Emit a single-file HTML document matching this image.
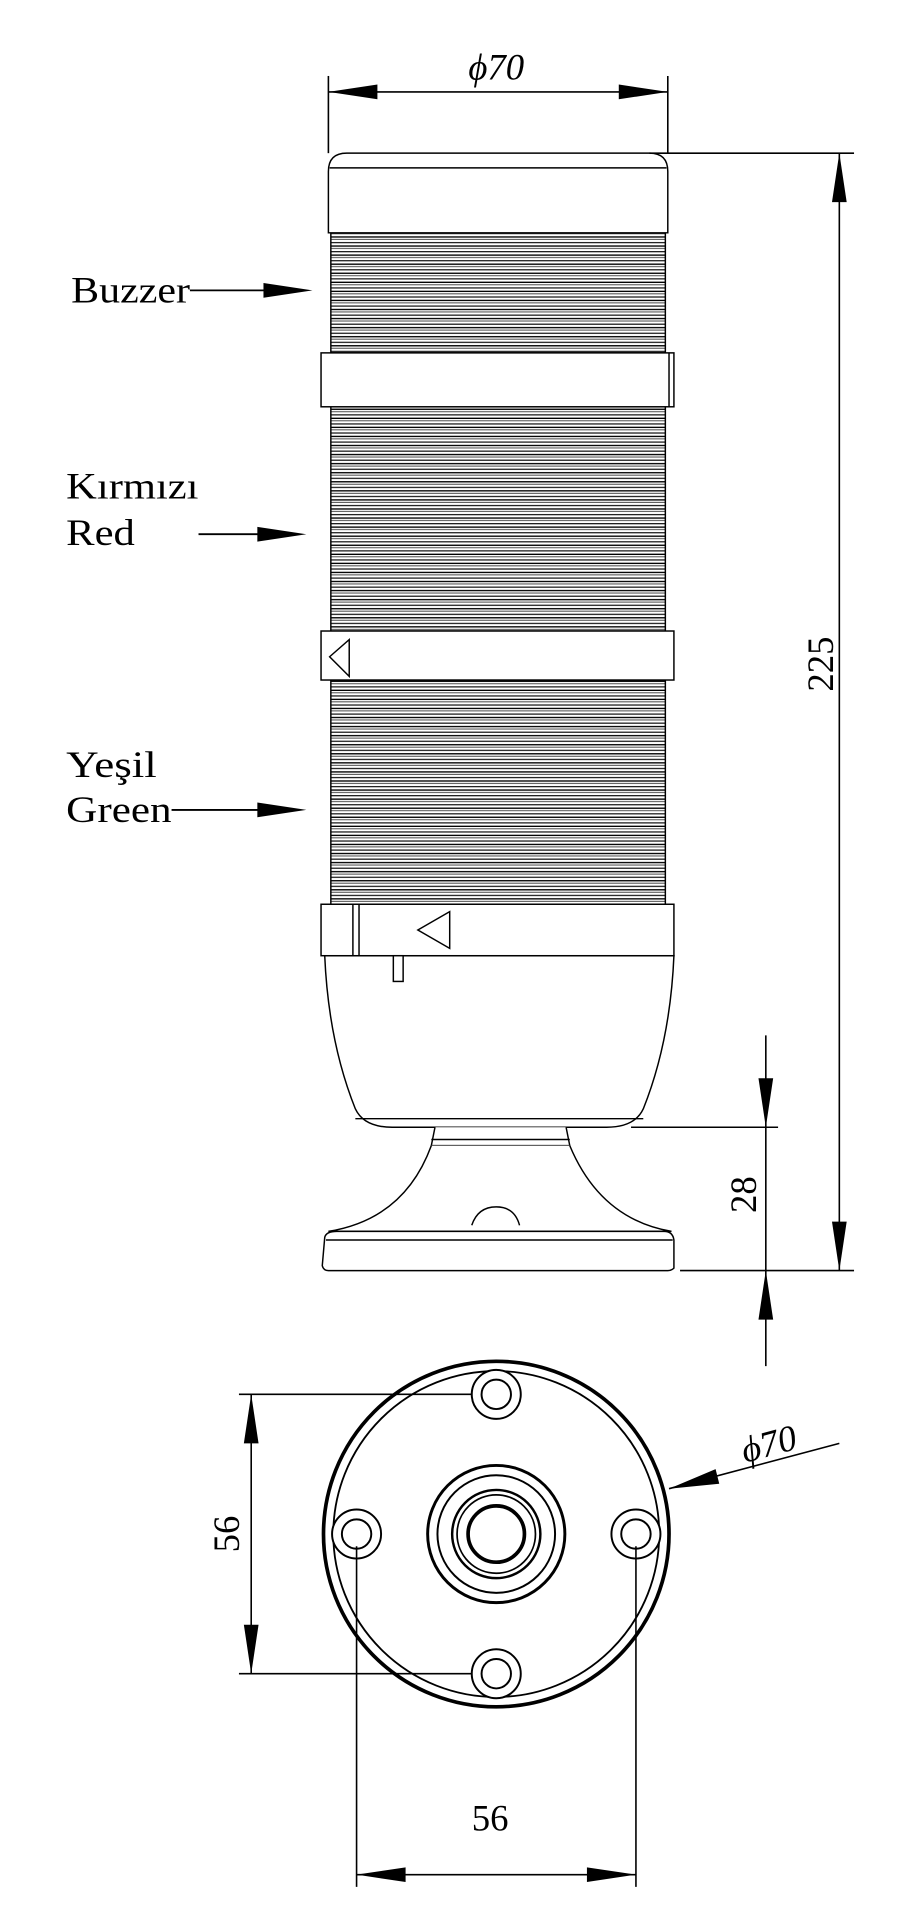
<!DOCTYPE html>
<html><head><meta charset="utf-8"><style>html,body{margin:0;padding:0;background:#fff}svg{display:block}</style></head>
<body>
<svg width="919" height="1920" viewBox="0 0 750 1567" xmlns="http://www.w3.org/2000/svg" font-family="Liberation Serif, serif">
<defs>
<pattern id="rib" x="0" y="0" width="10" height="7.4" patternUnits="userSpaceOnUse">
<rect width="10" height="7.4" fill="#fff"/>
<line x1="0" y1="1" x2="10" y2="1" stroke="#000" stroke-width="1.1"/>
<line x1="0" y1="3" x2="10" y2="3" stroke="#444" stroke-width="0.8"/>
<line x1="0" y1="5.6" x2="10" y2="5.6" stroke="#111" stroke-width="1"/>
</pattern>
</defs>
<g fill="none" stroke="#000" stroke-width="1.3">
<line x1="268" y1="62" x2="268" y2="125"/><line x1="545" y1="62" x2="545" y2="125"/>
<line x1="268" y1="75" x2="545" y2="75"/>
</g>
<polygon points="268,75 308,69 308,81" fill="#000"/><polygon points="545,75 505,69 505,81" fill="#000"/>
<text x="405" y="65" font-size="30" text-anchor="middle" font-style="italic">ϕ70</text>

<g stroke="#000" stroke-width="1.2">
<rect x="270" y="190" width="273" height="98" fill="url(#rib)"/>
<rect x="270" y="332" width="273" height="183" fill="url(#rib)"/>
<rect x="270" y="555" width="273" height="183" fill="url(#rib)"/>
<path d="M268,190 V140 Q268,125 283,125 H530 Q545,125 545,140 V190 Z" fill="#fff"/>
<line x1="269" y1="137" x2="544" y2="137"/>
<rect x="262" y="288" width="288" height="44" fill="#fff"/>
<line x1="546" y1="288" x2="546" y2="332"/>
<rect x="262" y="515" width="288" height="40" fill="#fff"/>
<polygon points="269,536 285,522 285,552" fill="none"/>
<rect x="262" y="738" width="288" height="42" fill="#fff"/>
<line x1="288" y1="738" x2="288" y2="780"/><line x1="293" y1="738" x2="293" y2="780"/>
<polygon points="341,759 367,744 367,774" fill="none"/>
<path d="M265,780 Q268,850 290,905 Q297,920 320,920 H495 Q518,920 525,905 Q547,850 550,780 Z" fill="#fff"/>
<line x1="290" y1="913" x2="525" y2="913"/>
<rect x="321" y="780" width="8" height="21" fill="#fff"/>
<path d="M355,920 L352,935 H465 L462,920" fill="#fff"/>
<line x1="352" y1="930" x2="465" y2="930"/>
<path d="M352,935 Q330,995 268,1005 H548 Q490,995 465,935" fill="#fff"/>
<path d="M385,1000 Q390,985 405,985 Q420,985 424,1000" fill="#fff"/>
<path d="M265,1010 Q266,1005 275,1005 H542 Q549,1005 550,1012 L550,1035 Q548,1037 545,1037 H268 Q264,1037 263,1033 Z" fill="#fff"/>
<line x1="266" y1="1012" x2="549" y2="1012"/>
</g>

<g stroke="#000" stroke-width="1.3">
<line x1="530" y1="125" x2="697" y2="125"/>
<line x1="555" y1="1037" x2="697" y2="1037"/>
<line x1="685" y1="125" x2="685" y2="1037"/>
<line x1="515" y1="920" x2="635" y2="920"/>
<line x1="625" y1="845" x2="625" y2="1115"/>
</g>
<polygon points="685,125 679,165 691,165" fill="#000"/><polygon points="685,1037 679,997 691,997" fill="#000"/>
<polygon points="625,920 619,880 631,880" fill="#000"/><polygon points="625,1037 619,1077 631,1077" fill="#000"/>
<text transform="translate(680,542) rotate(-90)" font-size="30" text-anchor="middle">225</text>
<text transform="translate(617,975) rotate(-90)" font-size="30" text-anchor="middle">28</text>

<g font-size="30">
<text x="58" y="247" textLength="97" lengthAdjust="spacingAndGlyphs">Buzzer</text>
<text x="54" y="407" textLength="108" lengthAdjust="spacingAndGlyphs">Kırmızı</text>
<text x="54" y="445" textLength="56" lengthAdjust="spacingAndGlyphs">Red</text>
<text x="54" y="634" textLength="74" lengthAdjust="spacingAndGlyphs">Yeşil</text>
<text x="54" y="671" textLength="86" lengthAdjust="spacingAndGlyphs">Green</text>
</g>
<g stroke="#000" stroke-width="1.5">
<line x1="155" y1="237" x2="225" y2="237"/>
<line x1="162" y1="436" x2="220" y2="436"/>
<line x1="140" y1="661" x2="220" y2="661"/>
</g>
<polygon points="255,237 215,231 215,243" fill="#000"/>
<polygon points="250,436 210,430 210,442" fill="#000"/>
<polygon points="250,661 210,655 210,667" fill="#000"/>

<g fill="none" stroke="#000">
<circle cx="405" cy="1252" r="141" stroke-width="3"/>
<circle cx="405" cy="1252" r="133" stroke-width="1.5"/>
<g stroke-width="1.6">
<circle cx="405" cy="1138" r="20" fill="#fff"/><circle cx="405" cy="1138" r="12"/>
<circle cx="405" cy="1366" r="20" fill="#fff"/><circle cx="405" cy="1366" r="12"/>
<circle cx="291" cy="1252" r="20" fill="#fff"/><circle cx="291" cy="1252" r="12"/>
<circle cx="519" cy="1252" r="20" fill="#fff"/><circle cx="519" cy="1252" r="12"/>
</g>
<circle cx="405" cy="1252" r="56" stroke-width="2.4"/>
<circle cx="405" cy="1252" r="48" stroke-width="1.6"/>
<circle cx="405" cy="1252" r="36" stroke-width="2"/>
<circle cx="405" cy="1252" r="32" stroke-width="1.4"/>
<circle cx="405" cy="1252" r="23" stroke-width="3"/>
<g stroke-width="1.3">
<line x1="195" y1="1138" x2="385" y2="1138"/>
<line x1="195" y1="1366" x2="385" y2="1366"/>
<line x1="205" y1="1138" x2="205" y2="1366"/>
<line x1="291" y1="1262" x2="291" y2="1540"/>
<line x1="519" y1="1262" x2="519" y2="1540"/>
<line x1="291" y1="1530" x2="519" y2="1530"/>
<line x1="546" y1="1215" x2="685" y2="1178"/>
</g>
</g>
<polygon points="205,1138 199,1178 211,1178" fill="#000"/><polygon points="205,1366 199,1326 211,1326" fill="#000"/>
<polygon points="291,1530 331,1524 331,1536" fill="#000"/><polygon points="519,1530 479,1524 479,1536" fill="#000"/>
<polygon points="546,1215 584,1199 587,1211" fill="#000"/>
<text transform="translate(195,1252) rotate(-90)" font-size="30" text-anchor="middle">56</text>
<text x="400" y="1494" font-size="30" text-anchor="middle">56</text>
<text transform="translate(630,1188) rotate(-15)" font-size="30" text-anchor="middle" font-style="italic">ϕ70</text>
</svg>
</body></html>
